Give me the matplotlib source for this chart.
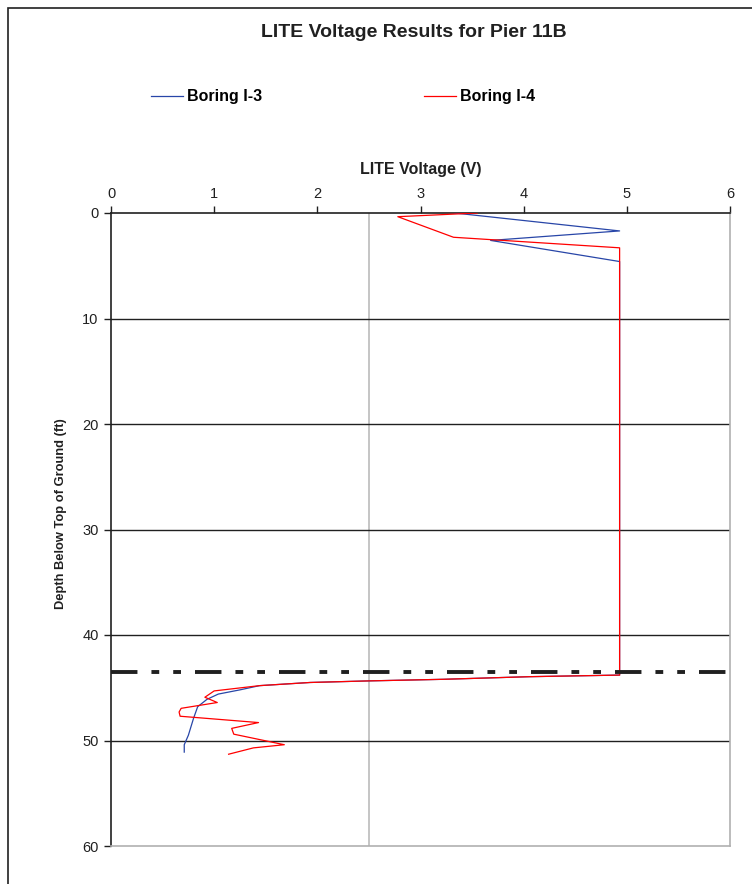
import numpy as np
import matplotlib.pyplot as plt
from matplotlib.patches import Rectangle

plt.rcParams['font.family'] = ['Liberation Sans', 'DejaVu Sans']

# Boring I-3 (blue)
i3_volt = [3.33, 4.93, 3.68, 4.93, 4.93, 4.06, 3.22, 2.5, 1.93, 1.44, 1.25, 1.04,
           0.93, 0.84, 0.80, 0.75, 0.71, 0.71]
i3_depth = [0.0, 1.7, 2.6, 4.6, 43.8, 43.95, 44.2, 44.35, 44.5, 44.8, 45.2, 45.6,
            46.1, 46.8, 47.9, 49.5, 50.4, 51.1]

# Boring I-4 (red)
i4_volt = [3.55, 2.78, 3.32, 4.93, 4.93, 4.06, 3.22, 2.5, 1.93, 1.44, 1.22, 1.0,
           0.91, 1.03, 0.68, 0.66, 0.67, 1.43, 1.17, 1.19, 1.68, 1.38, 1.14]
i4_depth = [0.0, 0.35, 2.3, 3.3, 43.8, 43.95, 44.2, 44.35, 44.5, 44.8, 45.05, 45.3,
            45.9, 46.4, 46.95, 47.3, 47.7, 48.3, 48.85, 49.4, 50.4, 50.7, 51.3]

marker_depth = 43.5   # dash-dot reference line
ref_volt = 2.5        # grey vertical line

fig = plt.figure(figsize=(7.52, 8.84), dpi=100)
fig.add_artist(Rectangle((8 / 752, -0.1), 1.2, 1 - 8 / 884 + 0.1,
                         transform=fig.transFigure, fill=False,
                         edgecolor='#202020', linewidth=1.2))

ax = fig.add_axes([111 / 752, 1 - 846 / 884, 619 / 752, 633 / 884])

ax.axvline(ref_volt, color='#c0c0c0', linewidth=1.3, zorder=1)
for d in [10, 20, 30, 40, 50]:
    ax.axhline(d, color='#202020', linewidth=1.0, zorder=1)

l3, = ax.plot(i3_volt, i3_depth, color='#2846a8', linewidth=0.9, zorder=3)
l4, = ax.plot(i4_volt, i4_depth, color='#ff0000', linewidth=0.9, zorder=3)

ax.plot([0, 5.97], [marker_depth, marker_depth], color='#202020', linewidth=2.8,
        dashes=(6.8, 3.6, 2.0, 3.6, 2.0, 3.6), zorder=4, solid_capstyle='butt')

ax.set_xlim(0, 6)
ax.set_ylim(60, 0)
ax.xaxis.tick_top()
ax.xaxis.set_label_position('top')
ax.set_xticks(range(0, 7))
ax.set_yticks(range(0, 61, 10))
ax.tick_params(axis='both', labelsize=10.5, length=5, width=1, color='#202020',
               labelcolor='#202020', pad=4)
ax.set_xlabel('LITE Voltage (V)', fontsize=11.5, fontweight='bold', labelpad=9,
              color='#202020')
ax.set_ylabel('Depth Below Top of Ground (ft)', fontsize=9.3, fontweight='bold',
              color='#202020')
ax.yaxis.set_label_coords(-0.071, 0.5245)

ax.spines['top'].set_color('#202020')
ax.spines['left'].set_color('#202020')
ax.spines['right'].set_color('#b0b0b0')
ax.spines['bottom'].set_color('#b0b0b0')
for s in ax.spines.values():
    s.set_linewidth(1.2)

fig.text(414 / 752, 1 - 37 / 884, 'LITE Voltage Results for Pier 11B',
         ha='center', va='baseline', fontsize=14, fontweight='bold', color='#202020')

fig.legend([l3, l4], ['Boring I-3', 'Boring I-4'], ncol=2, frameon=False,
           loc='center left', bbox_to_anchor=(137 / 752, 1 - 97 / 884),
           prop={'weight': 'bold', 'size': 11.5}, handlelength=2.0,
           handletextpad=0.25, columnspacing=10.1)

fig.savefig('out.png', dpi=100)
